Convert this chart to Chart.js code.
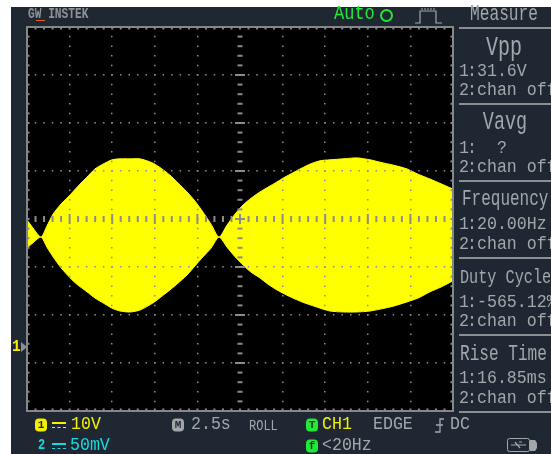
<!DOCTYPE html>
<html>
<head>
<meta charset="utf-8">
<title>Scope capture</title>
<script src="https://cdn.jsdelivr.net/npm/chart.js@4"></script>
<style>
html, body { margin: 0; padding: 0; background: #fff; }
#page { position: relative; width: 551px; height: 454px; overflow: hidden; background: #fff; filter: blur(0.35px); }
#bezel { position: absolute; left: 11px; top: 7px; width: 540px; height: 447px; background: #1f2832; }
#chartBox { position: absolute; left: 0; top: 0; width: 551px; height: 454px; }
.t { position: absolute; white-space: nowrap; line-height: 1; transform: translateY(-50%) scaleY(1.15);
     font-family: "Liberation Mono", monospace; font-size: 16.6px; color: #a3a7aa; }
.t i { display: inline-block; width: 18px; font-style: normal; letter-spacing: -2px; white-space: pre; }
.big { transform: translateY(-50%) scaleY(1.35); }
.c { transform: translate(-50%, -50%) scaleY(1.35); }
.y { color: #f4f000; }
.b { color: #18d8e0; }
.g { color: #22e83a; }
.rule { position: absolute; left: 459px; width: 92px; height: 2px; background: #8b8f92; }
.badge { position: absolute; width: 12px; height: 13px; border-radius: 4px; transform: translateY(-50%);
         font: bold 11px/13px "Liberation Mono", monospace; text-align: center; color: #1f2832; }
.coupling { position: absolute; width: 14px; height: 3px; border-top: 2px solid; border-bottom: 1px dashed; transform: translateY(-50%); }
svg { position: absolute; overflow: visible; }
</style>
</head>
<body>
<div id="page">
  <div id="bezel"></div>
  <div id="chartBox"><canvas id="scopeChart"></canvas></div>

  <!-- top bar -->
  <div class="t" style="left:28px;top:15px;font-size:11.2px;font-weight:bold;color:#8f9396;transform:translateY(-50%) scaleY(1.3)">GW INSTEK</div>
  <div style="position:absolute;left:36px;top:20px;width:9px;height:1px;background:#e8641e"></div>
  <div class="t g" style="left:334px;top:14px;font-size:17px">Auto</div>
  <div style="position:absolute;left:380px;top:9px;width:9px;height:9px;border:2px solid #22e83a;border-radius:50%"></div>
  <svg style="left:414px;top:8px" width="28" height="16"><path d="M1 15 H6 V3 H22 V15 H28" fill="none" stroke="#a3a7aa" stroke-width="1.2"/><path d="M8 2 V0 M11 2 V0 M14 2 V0 M17 2 V0 M20 2 V0" stroke="#a3a7aa"/></svg>
  <div class="t c" style="left:504px;top:15px;font-size:16.2px">Measure</div>

  <!-- measure panel -->
  <div class="rule" style="top:27px"></div>
  <div class="t c" style="left:504px;top:48px;font-size:20px">Vpp</div>
  <div class="t" style="left:459px;top:72px"><i>1: </i>31.6V</div>
  <div class="t" style="left:459px;top:91px"><i>2: </i>chan off</div>
  <div class="rule" style="top:103px"></div>
  <div class="t c" style="left:505px;top:124px;font-size:18.5px">Vavg</div>
  <div class="t" style="left:459px;top:149px"><i style="width:38px">1: </i>?</div>
  <div class="t" style="left:459px;top:168px"><i>2: </i>chan off</div>
  <div class="rule" style="top:180px"></div>
  <div class="t big" style="left:462px;top:200px;font-size:16px">Frequency</div>
  <div class="t" style="left:459px;top:225px"><i>1: </i>20.00Hz</div>
  <div class="t" style="left:459px;top:245px"><i>2: </i>chan off</div>
  <div class="rule" style="top:257px"></div>
  <div class="t big" style="left:460px;top:278px;font-size:15.2px">Duty Cycle</div>
  <div class="t" style="left:459px;top:303px"><i>1: </i>-565.12%</div>
  <div class="t" style="left:459px;top:322px"><i>2: </i>chan off</div>
  <div class="rule" style="top:334px"></div>
  <div class="t big" style="left:460px;top:355px;font-size:16.1px">Rise Time</div>
  <div class="t" style="left:459px;top:379px"><i>1: </i>16.85ms</div>
  <div class="t" style="left:459px;top:399px"><i>2: </i>chan off</div>
  <div class="rule" style="top:411px"></div>

  <!-- ground marker -->
  <div class="t y" style="left:12px;top:347px;font-size:14.5px;font-weight:bold">1</div>
  <div style="position:absolute;left:21px;top:342px;border-left:6px solid #8b8f92;border-top:5px solid transparent;border-bottom:5px solid transparent"></div>

  <!-- status bar -->
  <div class="badge" style="left:35px;top:425px;background:#f4f000">1</div>
  <div class="coupling y" style="left:52px;top:425px"></div>
  <div class="t y" style="left:71px;top:425px">10V</div>
  <div class="t b" style="left:38px;top:446px;font-size:12px;font-weight:bold">2</div>
  <div class="coupling b" style="left:52px;top:446px"></div>
  <div class="t b" style="left:70px;top:446px">50mV</div>
  <div class="badge" style="left:172px;top:425px;background:#a3a7aa">M</div>
  <div class="t" style="left:191px;top:425px">2.5s</div>
  <div class="t" style="left:249px;top:427px;font-size:12px">ROLL</div>
  <div class="badge" style="left:306px;top:425px;background:#22e83a">T</div>
  <div class="t y" style="left:322px;top:425px">CH1</div>
  <div class="t" style="left:373px;top:425px">EDGE</div>
  <svg style="left:434px;top:418px" width="10" height="15"><path d="M10 1 H6 V14 H1 M2 7 H9" fill="none" stroke="#a3a7aa" stroke-width="1.3"/></svg>
  <div class="t" style="left:450px;top:425px">DC</div>
  <div class="badge" style="left:306px;top:446px;background:#22e83a">f</div>
  <div class="t" style="left:322px;top:446px">&lt;20Hz</div>
  <svg style="left:507px;top:438px" width="31" height="15"><rect x="0.5" y="0.5" width="22" height="13" rx="2" fill="none" stroke="#a3a7aa"/><path d="M23 2 H28 L30 5 V10 L28 13 H23 Z" fill="#a3a7aa"/><path d="M4 7 H19 M8 4 L13 10 M12 4 H15" stroke="#a3a7aa" stroke-width="1.2" fill="none"/></svg>
</div>

<script>
// Envelope of the channel 1 trace
const timeSec = [0, 0.35, 0.82, 1.17, 1.53, 2.00, 2.53, 2.99, 3.52, 3.99, 4.46, 4.99, 5.46, 6.04, 6.63, 7.40,
    7.92, 8.39, 8.86, 9.39, 9.86, 10.33, 10.80, 11.27, 11.74, 12.21, 12.68, 13.15, 13.67, 14.14, 14.67, 15.14,
    15.61, 16.14, 16.61, 17.20, 17.78, 18.55, 19.37, 20.13, 20.72, 21.48, 22.30, 22.95, 23.65, 24.30, 25.00];
const upperVolts = [26.5, 24.8, 22.9, 25.2, 27.7, 29.8, 31.7, 33.5, 35.4, 37.1, 38.1, 39.0, 39.2, 39.2, 39.2, 38.3,
    37.1, 35.8, 34.2, 32.3, 30.4, 28.1, 25.6, 22.9, 25.4, 27.7, 29.6, 31.0, 32.3, 33.3, 34.4, 35.4,
    36.3, 37.3, 38.1, 38.8, 39.0, 39.2, 39.4, 39.0, 38.5, 37.9, 37.1, 36.0, 35.0, 34.0, 32.9];
const lowerVolts = [20.6, 21.7, 22.9, 20.8, 18.8, 16.5, 14.4, 12.9, 11.5, 10.2, 9.2, 8.1, 7.5, 7.3, 7.7, 9.2,
    10.6, 11.9, 13.3, 15.0, 16.9, 18.8, 20.6, 22.9, 20.8, 18.8, 17.1, 15.6, 14.4, 13.1, 11.9, 11.0,
    10.2, 9.4, 8.8, 8.1, 7.5, 7.3, 7.3, 7.5, 7.9, 8.5, 9.4, 10.2, 11.5, 12.5, 13.8];

// Screen settings: 2.5 s/div, 10 V/div, 10 x 8 divisions, ground marker 2.67 div below centre
const secPerDiv = 2.5;
const voltsPerDiv = 10;
const xDivs = 10;
const yDivs = 8;
const yBottom = -13.33;
const traceColor = '#ffff00';
const gridColor = '#8c8c8c';

function toPoints(values) {
    return values.map((v, i) => ({ x: timeSec[i], y: v }));
}

// Hide the grid lines that sit on the frame or the centre axes
function gridLineColor(middleIndex, lastIndex) {
    return ctx => (ctx.index === 0 || ctx.index === middleIndex || ctx.index === lastIndex) ? 'transparent' : gridColor;
}

// Black screen behind the trace
const screenBackground = {
    id: 'screenBackground',
    beforeDraw(chart) {
        const a = chart.chartArea;
        chart.ctx.fillStyle = '#000';
        chart.ctx.fillRect(a.left, a.top, a.width, a.height);
    }
};

// Frame and graduation marks, placed through the scales
const graticule = {
    id: 'graticule',
    afterDraw(chart) {
        const { ctx, chartArea: a, scales: { x, y } } = chart;
        const midX = x.getPixelForValue(secPerDiv * xDivs / 2);
        const midY = y.getPixelForValue(yBottom + voltsPerDiv * yDivs / 2);
        ctx.save();
        ctx.fillStyle = gridColor;

        // ticks along the top, bottom and centre row
        for (let i = 0; i <= xDivs * 5; i++) {
            const px = x.getPixelForValue(i * secPerDiv / 5);
            const h = i % 5 === 0 ? 5 : 3;
            ctx.fillRect(px - 1, a.top, 2, 2.5);
            ctx.fillRect(px - 1, a.bottom - 2.5, 2, 2.5);
            if (px !== midX) ctx.fillRect(px - 1, midY - h, 2, h * 2);
        }
        // ticks along the left, right and centre column
        for (let j = 0; j <= yDivs * 5; j++) {
            const py = y.getPixelForValue(yBottom + j * voltsPerDiv / 5);
            const w = j % 5 === 0 ? 5 : 2.5;
            ctx.fillRect(a.left, py - 1, 2.5, 2);
            ctx.fillRect(a.right - 2.5, py - 1, 2.5, 2);
            ctx.fillRect(midX - w, py - 1, w * 2, 2);
        }
        ctx.fillRect(midX - 1, midY - 5, 2, 10);

        ctx.strokeStyle = '#83878a';
        ctx.lineWidth = 2;
        ctx.strokeRect(a.left, a.top, a.width, a.height);
        ctx.restore();
    }
};

new Chart(document.getElementById('scopeChart').getContext('2d'), {
    type: 'line',
    data: {
        datasets: [
            { label: 'CH1 upper', data: toPoints(upperVolts), borderColor: traceColor, borderWidth: 1, backgroundColor: traceColor, fill: '+1', pointRadius: 0, tension: 0.25 },
            { label: 'CH1 lower', data: toPoints(lowerVolts), borderColor: traceColor, borderWidth: 1, pointRadius: 0, tension: 0.25, fill: false }
        ]
    },
    options: {
        responsive: true,
        maintainAspectRatio: false,
        animation: false,
        layout: { padding: { left: 27, top: 27, right: 98, bottom: 43 } },
        plugins: { legend: { display: false }, tooltip: { enabled: false } },
        scales: {
            x: {
                type: 'linear',
                min: 0,
                max: secPerDiv * xDivs,
                ticks: { display: false, stepSize: secPerDiv },
                border: { display: false, dash: [1.5, 8.1], dashOffset: 0.75 },
                grid: { z: 1, drawTicks: false, lineWidth: 1.5, color: gridLineColor(5, xDivs) }
            },
            y: {
                type: 'linear',
                min: yBottom,
                max: yBottom + voltsPerDiv * yDivs,
                ticks: { display: false },
                afterBuildTicks(scale) {
                    scale.ticks = [];
                    for (let j = 0; j <= yDivs; j++) {
                        scale.ticks.push({ value: yBottom + j * voltsPerDiv });
                    }
                },
                border: { display: false, dash: [1.5, 7.02], dashOffset: 0.75 },
                grid: { z: 1, drawTicks: false, lineWidth: 1.5, color: gridLineColor(4, yDivs) }
            }
        }
    },
    plugins: [screenBackground, graticule]
});
</script>
</body>
</html>
